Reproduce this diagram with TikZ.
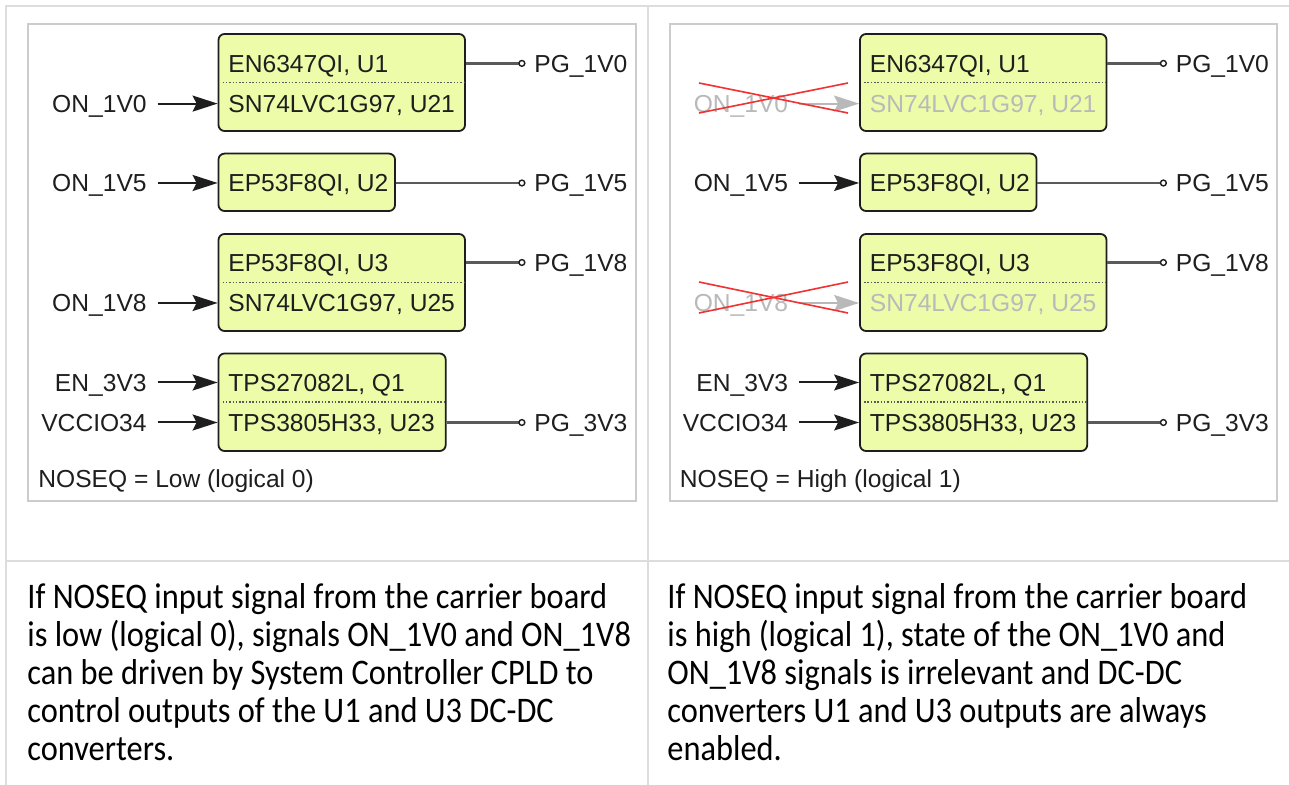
\documentclass[tikz,border=0pt]{standalone}
\usepackage{fontspec}
\setmainfont{Liberation Sans}
\newfontfamily\bodyfont[FakeStretch=0.9]{Carlito}
\usetikzlibrary{arrows.meta}

\definecolor{boxfill}{RGB}{236,252,168}
\definecolor{tableline}{RGB}{221,221,221}
\definecolor{panelline}{RGB}{204,204,204}
\definecolor{wirecol}{RGB}{90,90,90}
\definecolor{ghost}{RGB}{185,185,185}
\definecolor{inkcol}{RGB}{30,30,30}
\definecolor{crosscol}{RGB}{240,50,50}

\tikzset{
  diag/.style={font=\fontsize{12.3}{14}\selectfont, text=inkcol, text height=8.8pt, text depth=0pt, inner ysep=0pt},
  blk/.style={draw=inkcol, fill=boxfill, line width=0.9pt, rounded corners=3pt, inner sep=0pt},
  boxtxt/.style={diag, anchor=west, inner xsep=0pt},
  sig/.style={diag, anchor=east, inner xsep=5.25pt},
  pg/.style={diag, anchor=west, inner xsep=4.25pt},
  inarr/.style={color=inkcol, line width=1pt, -{Stealth[length=12.5pt, width=8pt, inset=2pt]}},
  ctlon/.style={},
  ctloff/.style={color=ghost},
  outw/.style={draw=wirecol, line width=1.4pt, -{Circle[open, length=3.6pt, line width=0.7pt, fill=white, color=inkcol]}},
  divider/.style={draw=wirecol, line width=0.8pt, dash pattern=on 0.75pt off 0.9pt, shorten <=2.5pt, shorten >=0.6pt},
  panelbox/.style={draw=panelline, line width=1pt},
  tbl/.style={draw=tableline, line width=1pt},
  crossln/.style={draw=crosscol, line width=0.8pt},
  body/.style={font=\bodyfont\fontsize{18}{19}\selectfont, text=black, anchor=base west, inner sep=0pt}
}

\newcommand\drawpanel[4]{%
\begin{scope}[xshift=#2]
  \draw[panelbox] (28.2,23.6) rectangle (635.6,500.7);
  % blocks
  \node[blk, minimum width=123.25pt, minimum height=48.5pt] (#1b1) at (341.75,82.5) {};
  \node[blk, minimum width=88.25pt, minimum height=28.7pt] (#1b2) at (306.75,182.3) {};
  \node[blk, minimum width=123.25pt, minimum height=48.5pt] (#1b3) at (341.75,282.5) {};
  \node[blk, minimum width=113.6pt, minimum height=48.75pt] (#1b4) at (332.1,402.25) {};
  \draw[divider] (#1b1.west) -- (#1b1.east);
  \draw[divider] (#1b3.west) -- (#1b3.east);
  \draw[divider] (#1b4.west) -- (#1b4.east);
  % block texts
  \node[boxtxt] (#1t11) at (228,63.4) {EN6347QI, U1};
  \node[boxtxt, #3] (#1t12) at (228,103.6) {SN74LVC1G97, U21};
  \node[boxtxt] (#1t21) at (228,183) {EP53F8QI, U2};
  \node[boxtxt] (#1t31) at (228,262.5) {EP53F8QI, U3};
  \node[boxtxt, #3] (#1t32) at (228,303) {SN74LVC1G97, U25};
  \node[boxtxt] (#1t41) at (228,382.5) {TPS27082L, Q1};
  \node[boxtxt] (#1t42) at (228,422.5) {TPS3805H33, U23};
  % inputs
  \node[sig, #3] (#1s1) at (157.5,103.6) {ON\_1V0};
  \node[sig] (#1s2) at (157.5,183) {ON\_1V5};
  \node[sig, #3] (#1s3) at (157.5,303) {ON\_1V8};
  \node[sig] (#1s4) at (157.5,382.5) {EN\_3V3};
  \node[sig] (#1s5) at (157.5,422.5) {VCCIO34};
  \draw[inarr, #3] (#1s1.east) -- (#1s1.east -| #1b1.west);
  \draw[inarr] (#1s2.east) -- (#1s2.east -| #1b2.west);
  \draw[inarr, #3] (#1s3.east) -- (#1s3.east -| #1b3.west);
  \draw[inarr] (#1s4.east) -- (#1s4.east -| #1b4.west);
  \draw[inarr] (#1s5.east) -- (#1s5.east -| #1b4.west);
  % outputs
  \node[pg] (#1p1) at (525.5,63.4) {PG\_1V0};
  \node[pg] (#1p2) at (525.5,183) {PG\_1V5};
  \node[pg] (#1p3) at (525.5,262.5) {PG\_1V8};
  \node[pg] (#1p4) at (525.5,422.5) {PG\_3V3};
  \draw[outw] (#1p1.west -| #1b1.east) -- (#1p1.west);
  \draw[outw] (#1p2.west -| #1b2.east) -- (#1p2.west);
  \draw[outw] (#1p3.west -| #1b3.east) -- (#1p3.west);
  \draw[outw] (#1p4.west -| #1b4.east) -- (#1p4.west);
  % mode label
  \node[diag, anchor=west, inner xsep=0pt] (#1nq) at (38,478.6) {#4};
\end{scope}}

\begin{document}
\begin{tikzpicture}[x=0.5pt, y=-0.5pt]
  \useasboundingbox (0,0) rectangle (1289,785);
  \fill[white] (0,0) rectangle (1289,785);
  % table grid
  \draw[tbl] (6,785) -- (6,6) -- (1289,6);
  \draw[tbl] (648,6) -- (648,785);
  \draw[tbl] (6,561) -- (1289,561);

  \drawpanel{L}{0pt}{ctlon}{NOSEQ = Low (logical 0)}
  \drawpanel{R}{320.75pt}{ctloff}{NOSEQ = High (logical 1)}

  % crossed-out inputs (right panel)
  \draw[crossln] (699,83) -- (848,113);
  \draw[crossln] (699,113) -- (848,83);
  \draw[crossln] (699,282) -- (848,313);
  \draw[crossln] (699,313) -- (848,282);

  % descriptions
  \node[body] (la) at (27,608) {If NOSEQ input signal from the carrier board};
  \node[body] (lb) at (27,646) {is low (logical 0), signals ON\_1V0 and ON\_1V8};
  \node[body] (lc) at (27,684) {can be driven by System Controller CPLD to};
  \node[body] (ld) at (27,722) {control outputs of the U1 and U3 DC-DC};
  \node[body] (le) at (27,760) {converters.};
  \node[body] (ra) at (667,608) {If NOSEQ input signal from the carrier board};
  \node[body] (rb) at (667,646) {is high (logical 1), state of the ON\_1V0 and};
  \node[body] (rc) at (667,684) {ON\_1V8 signals is irrelevant and DC-DC};
  \node[body] (rd) at (667,722) {converters U1 and U3 outputs are always};
  \node[body] (re) at (667,760) {enabled.};
\end{tikzpicture}
\end{document}
